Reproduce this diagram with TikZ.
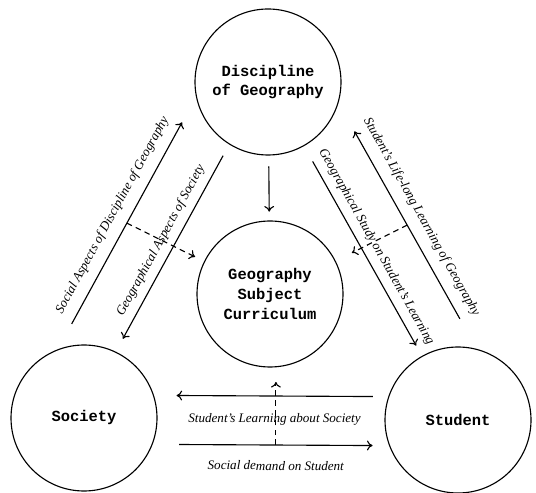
\documentclass[tikz,border=0pt]{standalone}
\usepackage{fontspec}
\setmainfont{Liberation Serif}
\newfontfamily\boldmono{Liberation Mono}
\usetikzlibrary{positioning,arrows.meta,calc}
\tikzset{
  field/.style={draw,circle,thick,minimum size=3.65cm,inner sep=0pt,align=center,
    font=\boldmono\bfseries\fontsize{11}{14}\selectfont},
  flow/.style={thick,-{To[length=4pt,width=7pt]}},
  backflow/.style={thick,{To[length=4pt,width=7pt]}-},
  hint/.style={flow,dash pattern=on 4pt off 3pt},
  tag/.style={font=\itshape\fontsize{9.3}{11}\selectfont,sloped}
}

\begin{document}
\begin{tikzpicture}
  \useasboundingbox (0,0) rectangle (13.4,12.3);
  \node[field] (disc) at (6.7,10.25) {Discipline\\of Geography};
  \node[field] (curr) at (6.75,4.95) {Geography\\Subject\\Curriculum};
  \node[field] (soc) at (2.1,1.85) {Society};
  \node[field] (stud) at (11.45,1.8) {Student};

  % discipline feeds the curriculum
  \draw[flow,shorten <=0.27cm,shorten >=0.22cm] (disc) -- (curr);

  % society and discipline
  \draw[flow] ($(soc)!0.2!(disc)!1.4cm!90:(disc)$) -- ($(soc)!0.8!(disc)!1.4cm!90:(disc)$)
    coordinate[midway] (m1) node[tag,midway,above,inner sep=7pt] {Social Aspects of Discipline of Geography};
  \draw[backflow] ($(soc)!0.23!(disc)!0.1cm!90:(disc)$) -- ($(soc)!0.775!(disc)!0.1cm!90:(disc)$)
    node[tag,midway,above,inner sep=5pt] {Geographical Aspects of Society};
  \draw[hint,shorten >=0.25cm] (m1) -- (curr);

  % discipline and student
  \draw[flow] ($(disc)!0.235!(stud)$) -- ($(disc)!0.78!(stud)$)
    node[tag,midway,above,inner sep=5pt] {Geographical Study on Student's Learning};
  \draw[backflow] ($(disc)!0.22!(stud)!1.28cm!90:(stud)$) -- ($(disc)!0.775!(stud)!1.28cm!90:(stud)$)
    coordinate[midway] (m4) node[tag,midway,above,inner sep=7pt] {Student's Life-long Learning of Geography};
  \draw[hint,shorten >=0.45cm] (m4) -- (curr);

  % society and student
  \draw[backflow] ($(soc)!0.247!(stud)!0.575cm!90:(stud)$) -- ($(soc)!0.772!(stud)!0.575cm!90:(stud)$)
    node[tag,midway,below,inner sep=12pt] {Student's Learning about Society};
  \draw[flow] ($(soc)!0.255!(stud)!-0.65cm!90:(stud)$) -- ($(soc)!0.772!(stud)!-0.65cm!90:(stud)$)
    coordinate[midway] (m6) node[tag,midway,below,inner sep=11pt] {Social demand on Student};
  \draw[hint,shorten >=0.36cm] (m6) -- (m6 |- curr.south);
\end{tikzpicture}
\end{document}
